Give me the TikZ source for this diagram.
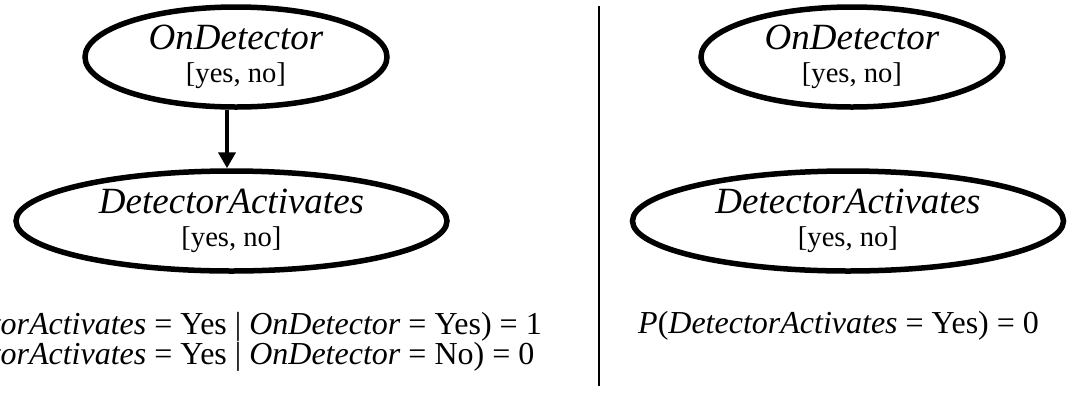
\documentclass[tikz,border=0pt]{standalone}
\usepackage{fontspec}
\setmainfont{Liberation Serif}
\usetikzlibrary{arrows.meta,positioning,shapes.geometric}

\newcommand{\varname}[1]{{\fontsize{37pt}{33pt}\selectfont\itshape #1}}
\newcommand{\valfont}{\fontsize{28.6pt}{33pt}\selectfont}
\newcommand{\eqfont}{\fontsize{32pt}{30pt}\selectfont}

\tikzset{
  varnode/.style={draw,ellipse,line width=5.5pt,inner sep=0pt,align=center,
    minimum height=100pt,font=\valfont},
  smallvar/.style={varnode,minimum width=302pt},
  bigvar/.style={varnode,minimum width=431pt},
  cpdline/.style={inner sep=0pt,font=\eqfont},
  edge/.style={line width=4.5pt,-{Triangle[length=16pt,width=17pt]}}
}

\begin{document}
\begin{tikzpicture}[x=1pt,y=-1pt]
  \useasboundingbox (0,0) rectangle (1069,392);
  \clip (0,0) rectangle (1069,392);

  % with the link
  \node[smallvar] (od1) at (236,57) {\varname{OnDetector}\\{[yes, no]}};
  \node[bigvar] (da1) at (231.5,221) {\varname{DetectorActivates}\\{[yes, no]}};
  \draw[edge] ([xshift=-9pt]od1.south) -- ([xshift=-4.5pt]da1.north);
  \node[cpdline,align=left,anchor=north east] (cpd1) at (542,312) {%
    \textit{P}(\textit{DetectorActivates} = Yes | \textit{OnDetector} = Yes) = 1\\
    \textit{P}(\textit{DetectorActivates} = Yes | \textit{OnDetector} = No) = 0};

  % separator
  \coordinate (septop) at (599,6);
  \coordinate (sepbot) at (599,386);
  \draw[line width=2pt] (septop) -- (sepbot);

  % without the link
  \node[smallvar] (od2) at (852,57) {\varname{OnDetector}\\{[yes, no]}};
  \node[bigvar] (da2) at (848,221) {\varname{DetectorActivates}\\{[yes, no]}};
  \node[cpdline,anchor=base west] (cpd2) at (638,333) {%
    \textit{P}(\textit{DetectorActivates} = Yes) = 0};
\end{tikzpicture}
\end{document}
